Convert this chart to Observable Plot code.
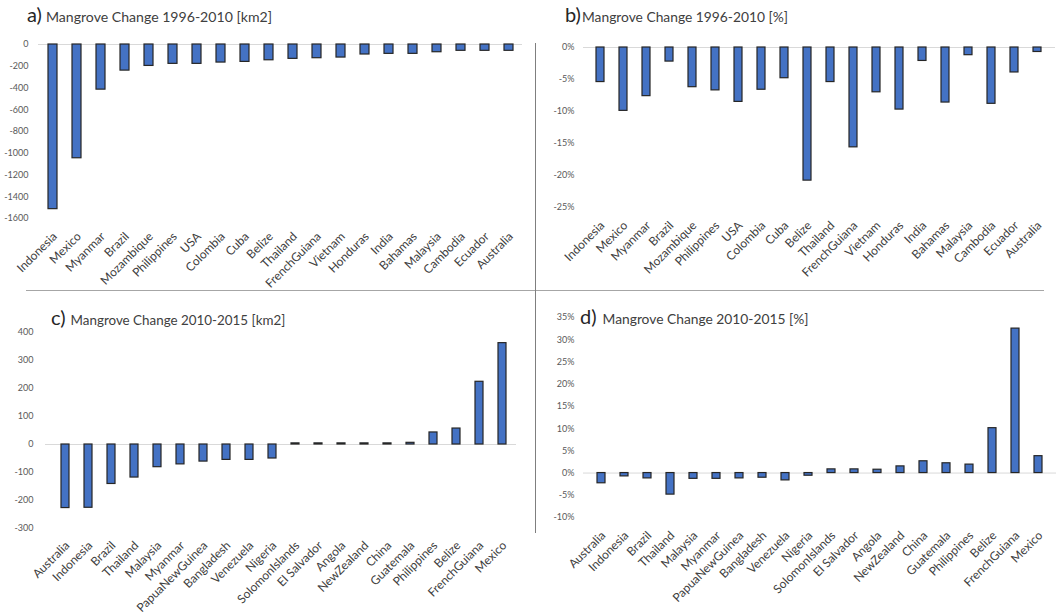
<!DOCTYPE html>
<html>
<head>
<meta charset="utf-8">
<script src="https://cdn.jsdelivr.net/npm/d3@7"></script>
<script src="https://cdn.jsdelivr.net/npm/@observablehq/plot@0.6"></script>
<style>
  html, body { margin: 0; padding: 0; background: #fff; }
  #root { position: relative; width: 1062px; height: 615px; background: #fff; font-family: Lato, "Open Sans", sans-serif; overflow: hidden; }
  .panel { position: absolute; }
  .panel svg { overflow: visible; }
  .divider { position: absolute; background: #a6a6a6; }
</style>
</head>
<body>
<div id="root">
  <div class="divider" style="left:26px;top:290px;width:1018px;height:1px;"></div>
  <div class="divider" style="left:535px;top:43px;width:1px;height:490px;background:#7f7f7f;"></div>
  <div class="panel" id="pa" style="left:0px;top:0px;"></div>
  <div class="panel" id="pb" style="left:535px;top:0px;"></div>
  <div class="panel" id="pc" style="left:0px;top:290px;"></div>
  <div class="panel" id="pd" style="left:535px;top:290px;"></div>
  <svg id="titles" width="1062" height="615" style="position:absolute;left:0;top:0;pointer-events:none;font-family:Lato, sans-serif;">
    <text x="27" y="22" fill="#262626"><tspan font-size="20">a)</tspan><tspan dx="4" font-size="14.1" fill="#404040">Mangrove Change 1996-2010 [km2]</tspan></text>
    <text x="565" y="22" fill="#262626"><tspan font-size="20">b)</tspan><tspan dx="1" font-size="13.8" fill="#404040">Mangrove Change 1996-2010 [%]</tspan></text>
    <text x="51" y="325" fill="#262626"><tspan font-size="20">c)</tspan><tspan dx="5" font-size="13.4" fill="#404040">Mangrove Change 2010-2015 [km2]</tspan></text>
    <text x="580" y="324" fill="#262626"><tspan font-size="20">d)</tspan><tspan dx="6" font-size="13.8" fill="#404040">Mangrove Change 2010-2015 [%]</tspan></text>
  </svg>
</div>
<script>
// Panel a/b: 1996-2010
const countries9610 = ["Indonesia","Mexico","Myanmar","Brazil","Mozambique","Philippines","USA","Colombia","Cuba","Belize","Thailand","FrenchGuiana","Vietnam","Honduras","India","Bahamas","Malaysia","Cambodia","Ecuador","Australia"];
const changeKm9610 = [-1514,-1046,-415,-240,-197,-178,-178,-166,-160,-145,-132,-126,-120,-92,-86,-86,-71,-58,-58,-58];
const countriesPct9610 = ["Indonesia","Mexico","Myanmar","Brazil","Mozambique","Philippines","USA","Colombia","Cuba","Belize","Thailand","FrenchGuiana","Vietnam","Honduras","India","Bahamas","Malaysia","Cambodia","Ecuador","Australia"];
const changePct9610 = [-5.4,-9.9,-7.6,-2.2,-6.2,-6.7,-8.5,-6.6,-4.8,-20.8,-5.4,-15.6,-7.0,-9.7,-2.1,-8.6,-1.2,-8.8,-3.9,-0.7];

// Panel c/d: 2010-2015
const countries1015 = ["Australia","Indonesia","Brazil","Thailand","Malaysia","Myanmar","PapuaNewGuinea","Bangladesh","Venezuela","Nigeria","SolomonIslands","El Salvador","Angola","NewZealand","China","Guatemala","Philippines","Belize","FrenchGuiana","Mexico"];
const changeKm1015 = [-227,-226,-141,-118,-81,-71,-61,-55,-55,-50,4,4,4,4,4,6,43,57,224,362];
const changePct1015 = [-2.3,-0.75,-1.2,-4.85,-1.3,-1.3,-1.2,-1.05,-1.65,-0.6,0.83,0.83,0.75,1.5,2.65,2.2,1.9,10.1,32.5,3.8];

// Tick values
const ticksA = [-1600,-1400,-1200,-1000,-800,-600,-400,-200,0];
const ticksB = [-25,-20,-15,-10,-5,0];
const ticksC = [-300,-200,-100,0,100,200,300,400];
const ticksD = [-10,-5,0,5,10,15,20,25,30,35];

const BAR_FILL = "#4472C4";
const BAR_STROKE = "#262626";

function panel({cats, vals, width, height, mt, mb, ml, mr, range, ydomain, yticks, yfmt, ypad, xpad}) {
  const data = cats.map((c, i) => ({c, v: vals[i]}));
  const xOpts = {domain: cats, paddingInner: 0.64, paddingOuter: 0.32};
  if (range) xOpts.range = range;
  return Plot.plot({
    width, height,
    marginTop: mt, marginBottom: mb, marginLeft: ml, marginRight: mr,
    style: {fontFamily: "Lato, sans-serif", background: "transparent", overflow: "visible"},
    x: xOpts,
    y: {domain: ydomain},
    marks: [
      Plot.ruleY([0], {stroke: "#d9d9d9", strokeWidth: 1}),
      Plot.barY(data, {x: "c", y: "v", fill: BAR_FILL, stroke: BAR_STROKE, strokeWidth: 1.2}),
      Plot.axisY({ticks: yticks, tickFormat: yfmt, tickSize: 0, tickPadding: ypad, fontSize: 9, color: "#595959", label: null}),
      Plot.axisX({tickSize: 0, tickRotate: -45, tickPadding: xpad, dx: 2, fontSize: 12, color: "#404040", label: null})
    ]
  });
}

const kmFmt = d => String(d);
const pctFmt = d => d + "%";

document.getElementById("pa").append(panel({
  cats: countries9610, vals: changeKm9610, width: 530, height: 290,
  mt: 44, mb: 72, ml: 38, mr: 8, ydomain: [-1600, 0], yticks: ticksA, yfmt: kmFmt, ypad: 10, xpad: 16
}));
document.getElementById("pb").append(panel({
  cats: countriesPct9610, vals: changePct9610, width: 527, height: 290,
  mt: 47, mb: 83, ml: 48, mr: 7, ydomain: [-25, 0], yticks: ticksB, yfmt: pctFmt, ypad: 9, xpad: 16
}));
document.getElementById("pc").append(panel({
  cats: countries1015, vals: changeKm1015, width: 530, height: 325,
  mt: 42, mb: 87, ml: 45, mr: 14, range: [52.4, 515.6], ydomain: [-300, 400], yticks: ticksC, yfmt: kmFmt, ypad: 12, xpad: 15
}));
document.getElementById("pd").append(panel({
  cats: countries1015, vals: changePct1015, width: 527, height: 325,
  mt: 27, mb: 98, ml: 48, mr: 6, ydomain: [-10, 35], yticks: ticksD, yfmt: pctFmt, ypad: 9, xpad: 16
}));
</script>
</body>
</html>
